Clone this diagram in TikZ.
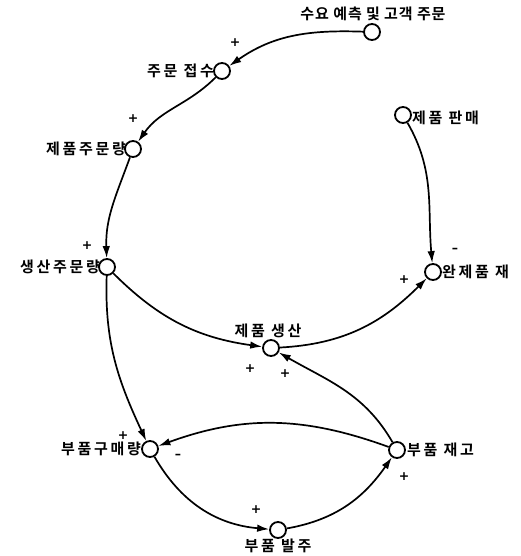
\documentclass[tikz,border=0pt]{standalone}
\usepackage{fontspec}
\usetikzlibrary{arrows.meta}
\newfontfamily\kr[LetterSpace=18,UprightFont=* Bold]{Noto Sans CJK KR}
\newfontfamily\krn[LetterSpace=6,UprightFont=* Bold]{Noto Sans CJK KR}
\newfontfamily\sg{DejaVu Sans}
\begin{document}
\begin{tikzpicture}[x=1pt,y=1pt,
  var/.style={circle,draw,line width=1.8pt,minimum size=16pt,inner sep=0pt,fill=white},
  lbl/.style={font=\kr\fontsize{15}{16}\selectfont,inner sep=0pt},
  lbln/.style={font=\krn\fontsize{15}{16}\selectfont,inner sep=0pt},
  sgn/.style={font=\sg\bfseries\fontsize{12.5}{12.5}\selectfont,inner sep=0pt},
  lnk/.style={line width=1.7pt,-{Latex[length=12pt,width=7.5pt]}}]
\useasboundingbox (0,0) rectangle (521,556);
% variables
\node[var] (dem) at (372,524) {};
\node[var] (ord) at (222,485) {};
\node[var] (pord) at (133,407) {};
\node[var] (mord) at (107,289) {};
\node[var] (sale) at (403,441) {};
\node[var] (fin) at (433,284) {};
\node[var] (prod) at (271,208) {};
\node[var] (buy) at (150,107) {};
\node[var] (inv) at (397,106) {};
\node[var] (po) at (278,26) {};
% labels
\node[lbln] (tdem) at (373,542) {수요 예측 및 고객 주문};
\node[lbl,anchor=east] (tord) at (214,485) {주문 접수};
\node[lbl,anchor=east] (tpord) at (126,407) {제품주문량};
\node[lbl,anchor=east] (tmord) at (100,289) {생산주문량};
\node[lbl,anchor=west] (tsale) at (412,438) {제품 판매};
\node[lbl,anchor=west] (tfin) at (442,284) {완제품 재};
\node[lbl] (tprod) at (268,225) {제품 생산};
\node[lbl,anchor=east] (tbuy) at (141,107) {부품구매량};
\node[lbl,anchor=west] (tinv) at (407,106) {부품 재고};
\node[lbl] (tpo) at (278,10) {부품 발주};
% links
\draw[lnk] (dem) to[out=178,in=35] (ord);
\draw[lnk] (ord) to[out=225,in=55] (pord);
\draw[lnk] (pord) to[out=250,in=92] (mord);
\draw[lnk] (mord) to[out=-45,in=172] (prod);
\draw[lnk] (mord) to[out=268,in=115] (buy);
\draw[lnk] (sale) to[out=-60,in=95] (fin);
\draw[lnk] (prod) to[out=3,in=225] (fin);
\draw[lnk] (inv) to[out=120,in=-30] (prod);
\draw[lnk] (inv) to[out=160,in=20] (buy);
\draw[lnk] (buy) to[out=-60,in=175] (po);
\draw[lnk] (po) to[out=10,in=235] (inv);
% signs
\node[sgn] (s1) at (235,513) {+};
\node[sgn] (s2) at (133,437) {+};
\node[sgn] (s3) at (87,310) {+};
\node[sgn] (s4) at (455,306) {–};
\node[sgn] (s5) at (404,276) {+};
\node[sgn] (s6) at (250,187) {+};
\node[sgn] (s7) at (285,182) {+};
\node[sgn] (s8) at (123,120) {+};
\node[sgn] (s9) at (178,100) {–};
\node[sgn] (s10) at (404,79) {+};
\node[sgn] (s11) at (256,46) {+};
\end{tikzpicture}
\end{document}
